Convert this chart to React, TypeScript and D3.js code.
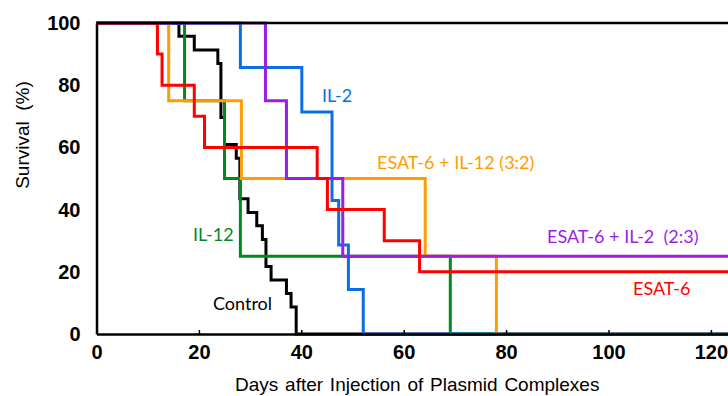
import { useEffect, useRef } from 'react';
import * as d3 from 'd3';

// step points: day of the drop, survival (%) after it
const controlDays = [0, 16.1, 19.1, 23.7, 24.3, 25.0, 27.3, 28.0, 29.6, 31.3, 32.4, 33.1, 34.1, 37.1, 38.0, 39.0];
const controlSurv = [100, 95.7, 91.3, 87.0, 69.6, 60.9, 56.5, 43.5, 39.1, 34.8, 30.4, 21.7, 17.4, 13.0, 8.7, 0];

const il12Days = [0, 17.2, 25.0, 28.1, 69.1];
const il12Surv = [100, 75, 50, 25, 0];

const mixIl12Days = [0, 14.1, 28.3, 64.2, 78.1];
const mixIl12Surv = [100, 75, 50, 25, 0];

const il2Days = [0, 28.1, 40.1, 46.0, 47.3, 49.2, 52.1];
const il2Surv = [100, 85.7, 71.4, 42.9, 28.6, 14.3, 0];

const mixIl2Days = [0, 33.0, 37.1, 48.1];
const mixIl2Surv = [100, 75, 50, 25];

const esatDays = [0, 11.9, 12.8, 19.1, 21.1, 43.1, 45.1, 56.2, 63.1];
const esatSurv = [100, 90, 80, 70, 60, 50, 40, 30, 20];

const xTicks = [0, 20, 40, 60, 80, 100, 120];
const yTicks = [0, 20, 40, 60, 80, 100];
const X_END = 125;

const series = [
  { name: 'Control', days: controlDays, surv: controlSurv, color: '#000000', lx: 213, ly: 310 },
  { name: 'IL-12', days: il12Days, surv: il12Surv, color: '#008a1e', lx: 193, ly: 241 },
  { name: 'ESAT-6 + IL-12 (3:2)', days: mixIl12Days, surv: mixIl12Surv, color: '#ff9c00', lx: 377, ly: 169 },
  { name: 'IL-2', days: il2Days, surv: il2Surv, color: '#0a6ee6', lx: 322, ly: 102 },
  { name: 'ESAT-6 + IL-2  (2:3)', days: mixIl2Days, surv: mixIl2Surv, color: '#9b1ee6', lx: 547, ly: 243 },
  { name: 'ESAT-6', days: esatDays, surv: esatSurv, color: '#ff0000', lx: 633, ly: 295 },
];

export default function App() {
  const svgRef = useRef<SVGSVGElement>(null);
  const width = 728;
  const height = 396;

  useEffect(() => {
    const svg = d3.select(svgRef.current);
    svg.selectAll('*').remove();

    const x = d3.scaleLinear().domain([0, X_END]).range([96.5, 96.5 + X_END * 5.12]);
    const y = d3.scaleLinear().domain([0, 100]).range([334, 23]);

    const line = d3.line<[number, number]>()
      .x(d => x(d[0]))
      .y(d => y(d[1]))
      .curve(d3.curveStepAfter);

    // curves
    series.forEach(s => {
      const pts: [number, number][] = s.days.map((d, i) => [d, s.surv[i]]);
      pts.push([X_END, s.surv[s.surv.length - 1]]);
      svg.append('path')
        .datum(pts)
        .attr('fill', 'none')
        .attr('stroke', s.color)
        .attr('stroke-width', 3)
        .attr('d', line);
    });

    // frame: top border, left and bottom axes
    svg.append('line')
      .attr('x1', x(0)).attr('x2', width)
      .attr('y1', y(100)).attr('y2', y(100))
      .attr('stroke', '#000').attr('stroke-width', 2.5);

    const xAxis = svg.append('g')
      .attr('transform', `translate(0,${y(0)})`)
      .call(d3.axisBottom(x).tickValues(xTicks).tickSizeInner(-4).tickSizeOuter(0).tickPadding(11));
    xAxis.select('.domain').attr('stroke-width', 2.5);
    xAxis.selectAll('line').attr('stroke-width', 1.5);
    xAxis.selectAll('text')
      .attr('font-family', 'Liberation Sans, Arial, sans-serif')
      .attr('font-weight', 'bold')
      .attr('font-size', 20)
      .attr('fill', '#000');

    const yAxis = svg.append('g')
      .attr('transform', `translate(${x(0)},0)`)
      .call(d3.axisLeft(y).tickValues(yTicks).tickSize(0).tickPadding(16));
    yAxis.select('.domain').attr('stroke-width', 2.5);
    yAxis.selectAll('text')
      .attr('font-family', 'Liberation Sans, Arial, sans-serif')
      .attr('font-weight', 'bold')
      .attr('font-size', 20)
      .attr('fill', '#000');

    // series labels
    series.forEach(s => {
      svg.append('text')
        .attr('x', s.lx)
        .attr('y', s.ly)
        .attr('fill', s.color)
        .attr('font-family', 'Lato, sans-serif')
        .attr('font-size', 18)
        .style('white-space', 'pre')
        .text(s.name);
    });

    // axis titles
    svg.append('text')
      .attr('x', 235)
      .attr('y', 391)
      .attr('font-family', 'Liberation Sans, Arial, sans-serif')
      .attr('font-size', 19)
      .attr('word-spacing', 1.5)
      .attr('fill', '#000')
      .text('Days after Injection of Plasmid Complexes');

    svg.append('text')
      .attr('transform', 'translate(29,135) rotate(-90)')
      .attr('text-anchor', 'middle')
      .attr('font-family', 'Liberation Sans, Arial, sans-serif')
      .attr('font-size', 19)
      .attr('fill', '#000')
      .style('white-space', 'pre')
      .text('Survival  (%)');
  }, []);

  return (
    <svg
      ref={svgRef}
      width={width}
      height={height}
      style={{ position: 'absolute', left: 0, top: 0, background: '#fff' }}
    />
  );
}
